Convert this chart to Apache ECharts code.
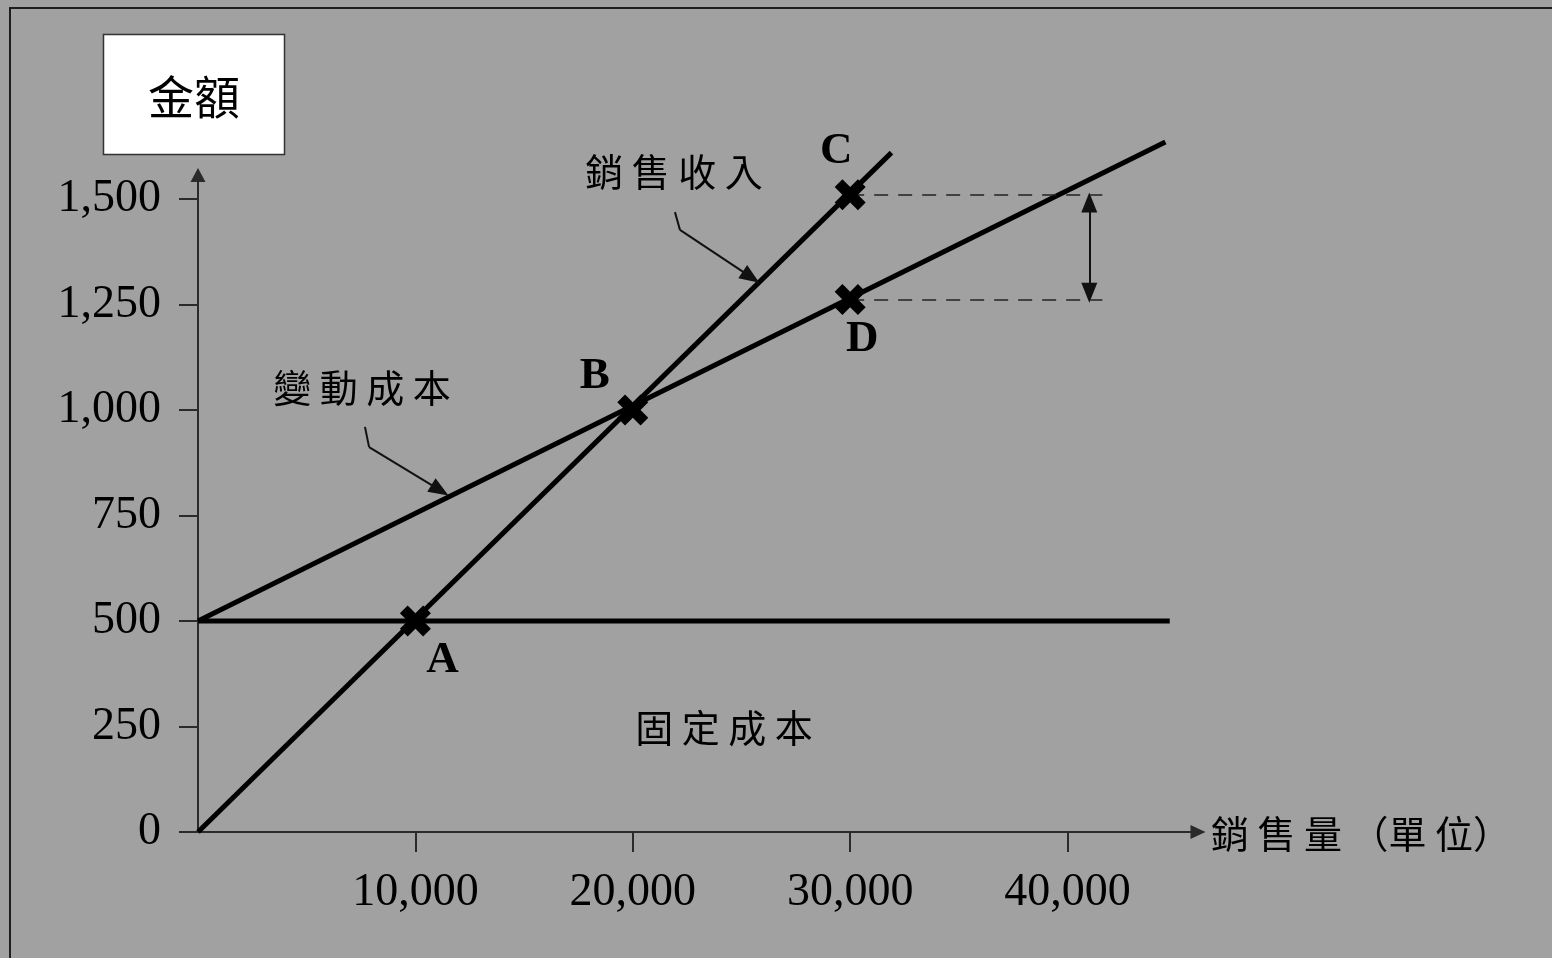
<!DOCTYPE html>
<html>
<head>
<meta charset="utf-8">
<script src="https://cdn.jsdelivr.net/npm/echarts@6/dist/echarts.min.js"></script>
<style>
  html, body { margin: 0; padding: 0; background: #a1a1a1; }
  #chart { width: 1552px; height: 958px; }
</style>
</head>
<body>
<div id="chart"></div>
<script>
// Break-even chart: fixed cost, total cost (fixed + variable) and sales revenue
const xTicks = [10000, 20000, 30000, 40000];
const yTicks = [0, 250, 500, 750, 1000, 1250, 1500];

const fixedCost = [[0, 500], [44700, 500]];
const totalCost = [[0, 500], [44500, 1635]];
const salesRevenue = [[0, 0], [31900, 1610]];

const pointNames = ['A', 'B', 'C', 'D'];
const pointValues = [[10000, 500], [20000, 1000], [30000, 1510], [30000, 1262]];

// gap between revenue and total cost at 30,000 units
const gapLevels = [1510, 1262];
const gapFromX = 30000;
const gapToX = 41600;
const gapArrowX = 41000;
const gapArrowRange = [1492, 1278];

// leader lines pointing at the curves: [start, bend, tip]
const salesLeader = [[21940, 1469], [22170, 1427], [25440, 1315]];
const variableLeader = [[7680, 960], [7870, 912], [11130, 810]];

const labelOffsets = { A: [27, 39], B: [-38, -34], C: [-14, -43], D: [12, 40] };

const SERIF = '"Liberation Serif", "Times New Roman", serif';
const CJK = '"Noto Sans CJK TC", "Noto Sans CJK SC", sans-serif';
const INK = '#000';
const AXIS = '#2a2a2a';

// bold X marker
const xMark = 'path://M0,2.5 L2.5,0 L5,2.5 L7.5,0 L10,2.5 L7.5,5 L10,7.5 L7.5,10 L5,7.5 L2.5,10 L0,7.5 L2.5,5 Z';
const HEAD = [16, 20];

function leaderLines(pts) {
  return [
    [{ coord: pts[0], symbol: 'none' }, { coord: pts[1], symbol: 'none' }],
    [{ coord: pts[1], symbol: 'none' }, { coord: pts[2], symbol: 'triangle', symbolSize: HEAD }]
  ];
}

const chart = echarts.init(document.getElementById('chart'), null, { renderer: 'canvas' });

const thick = { color: INK, width: 5 };

chart.setOption({
  backgroundColor: '#a1a1a1',
  animation: false,
  grid: { left: 198, right: 354, top: 175, bottom: 126 },
  xAxis: {
    type: 'value',
    min: 0,
    max: 46000,
    interval: 10000,
    splitLine: { show: false },
    axisLine: {
      show: true,
      lineStyle: { color: AXIS, width: 2 },
      symbol: ['none', 'triangle'],
      symbolSize: [14, 15]
    },
    axisTick: { show: true, length: 20, customValues: xTicks, lineStyle: { color: AXIS, width: 2 } },
    axisLabel: {
      customValues: xTicks,
      formatter: v => v.toLocaleString('en-US'),
      fontFamily: SERIF,
      fontSize: 46,
      color: INK,
      margin: 38
    }
  },
  yAxis: {
    type: 'value',
    min: 0,
    max: 1557,
    interval: 250,
    splitLine: { show: false },
    axisLine: {
      show: true,
      lineStyle: { color: AXIS, width: 2 },
      symbol: ['none', 'triangle'],
      symbolSize: [15, 14]
    },
    axisTick: { show: true, length: 19, customValues: yTicks, lineStyle: { color: AXIS, width: 2 } },
    axisLabel: {
      customValues: yTicks,
      formatter: v => v.toLocaleString('en-US'),
      fontFamily: SERIF,
      fontSize: 46,
      color: INK,
      margin: 37
    }
  },
  series: [
    {
      name: '固定成本', type: 'line', data: fixedCost, clip: false,
      symbol: 'none', lineStyle: thick, z: 3
    },
    {
      name: '總成本', type: 'line', data: totalCost, clip: false,
      symbol: 'none', lineStyle: thick, z: 3
    },
    {
      name: '銷售收入', type: 'line', data: salesRevenue, clip: false,
      symbol: 'none', lineStyle: thick, z: 3
    },
    {
      name: '標記', type: 'scatter', clip: false,
      data: pointValues.map((v, i) => ({
        value: v,
        name: pointNames[i],
        label: { offset: labelOffsets[pointNames[i]] }
      })),
      symbol: xMark,
      symbolSize: 31,
      itemStyle: { color: INK, opacity: 1 },
      z: 5,
      label: {
        show: true,
        position: 'inside',
        formatter: p => p.name,
        fontFamily: SERIF,
        fontWeight: 'bold',
        fontSize: 45,
        color: INK
      }
    },
    {
      name: '註記', type: 'line', data: [],
      markLine: {
        silent: true,
        symbol: 'none',
        symbolSize: HEAD,
        label: { show: false },
        lineStyle: { color: '#111', width: 2, type: 'solid' },
        data: [
          ...gapLevels.map(y => [
            { coord: [gapFromX, y], lineStyle: { type: [14, 10], width: 1.5, color: '#222' } },
            { coord: [gapToX, y] }
          ]),
          [
            { coord: [gapArrowX, gapArrowRange[0]], symbol: 'triangle', symbolSize: HEAD },
            { coord: [gapArrowX, gapArrowRange[1]], symbol: 'triangle', symbolSize: HEAD }
          ],
          ...leaderLines(salesLeader),
          ...leaderLines(variableLeader)
        ]
      }
    }
  ],
  graphic: [
    {
      type: 'rect', z: -1, silent: true,
      shape: { x: 10, y: 8, width: 1700, height: 1100 },
      style: { fill: 'none', stroke: '#1e1e1e', lineWidth: 2 }
    },
    {
      type: 'rect', silent: true,
      shape: { x: 103.5, y: 34.5, width: 181, height: 120 },
      style: { fill: '#fff', stroke: '#333', lineWidth: 1.5 }
    },
    {
      type: 'text', silent: true, x: 194, y: 97,
      style: { text: '金額', font: '46px ' + CJK, fill: INK, align: 'center', verticalAlign: 'middle' }
    },
    {
      type: 'text', silent: true, x: 674, y: 172,
      style: { text: '銷 售 收 入', font: '38px ' + CJK, fill: INK, align: 'center', verticalAlign: 'middle' }
    },
    {
      type: 'text', silent: true, x: 362, y: 388,
      style: { text: '變 動 成 本', font: '38px ' + CJK, fill: INK, align: 'center', verticalAlign: 'middle' }
    },
    {
      type: 'text', silent: true, x: 724, y: 728,
      style: { text: '固 定 成 本', font: '38px ' + CJK, fill: INK, align: 'center', verticalAlign: 'middle' }
    },
    {
      type: 'text', silent: true, x: 1211, y: 834,
      style: { text: '銷 售 量 （單 位）', font: '38px ' + CJK, fill: INK, align: 'left', verticalAlign: 'middle' }
    }
  ]
});
</script>
</body>
</html>
